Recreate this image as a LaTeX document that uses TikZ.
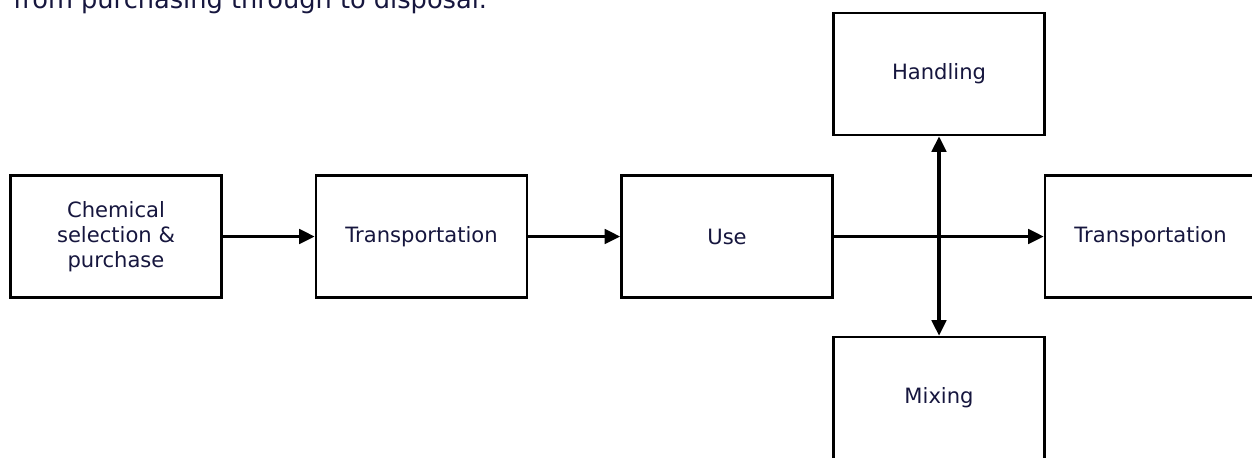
\documentclass[tikz,border=0pt]{standalone}
\usepackage{fontspec}
\setmainfont{DejaVu Sans}
\usepackage{tikz}
\usetikzlibrary{arrows.meta,positioning}
\definecolor{inknavy}{RGB}{22,22,62}
\tikzset{
  base/.style={font=\fontsize{12pt}{14.2pt}\selectfont, align=center, inner sep=3pt, text=inknavy},
  stage/.style={base, rectangle, draw=black, fill=white, line width=1.5pt, minimum width=4.22cm, minimum height=2.44cm},
  arr/.style={-{Triangle[length=3.1mm,width=2.9mm]}, line width=1.8pt, draw=black},
  arr2/.style={arr, {Triangle[length=3.1mm,width=2.9mm]}-{Triangle[length=3.1mm,width=2.9mm]}},
}
\begin{document}
\begin{tikzpicture}
  \clip (0,0) rectangle (25.04,-9.14);
  % caption line cut off at the top
  \node[base, font=\fontsize{14.6pt}{17pt}\selectfont, anchor=base west, inner sep=0pt] (caption) at (0.26,-0.17) {from purchasing through to disposal.};
  % main chain
  \node[stage] (select) at (2.32,-4.73) {Chemical\\selection \&\\purchase};
  \node[stage] (transA) at (8.43,-4.73) {Transportation};
  \node[stage] (use)    at (14.54,-4.73) {Use};
  \node[stage] (transB) at (23.01,-4.73) {Transportation};
  % branch boxes
  \node[stage] (handle) at (18.78,-1.48) {Handling};
  \node[stage] (mix)    at (18.78,-7.96) {Mixing};
  % connectors
  \draw[arr] (select) -- (transA);
  \draw[arr] (transA) -- (use);
  \draw[arr] (use) -- (transB);
  \draw[arr2] (mix.north) -- (handle.south);
\end{tikzpicture}
\end{document}
